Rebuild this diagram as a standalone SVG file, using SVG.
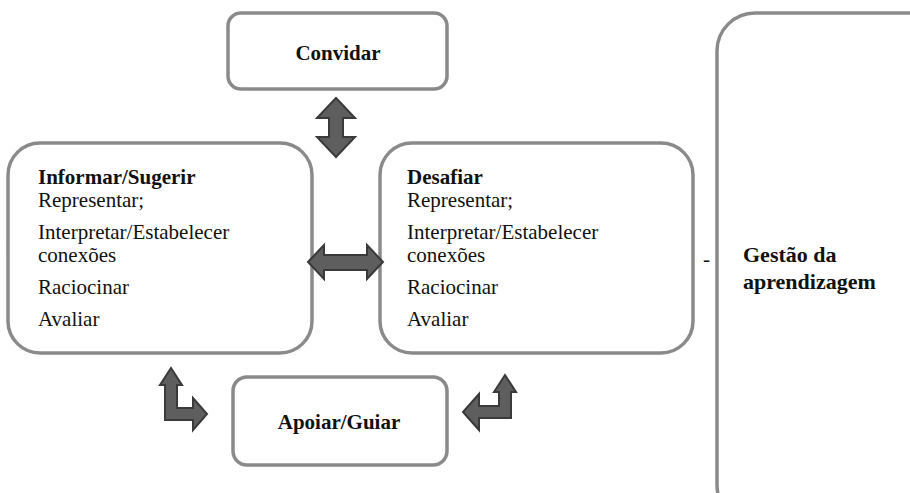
<svg xmlns="http://www.w3.org/2000/svg" width="910" height="493" viewBox="0 0 910 493">
<style>
.box{fill:#fff;stroke:#8a8a8a;stroke-width:3.5}
.t{font-family:"Liberation Serif","Times New Roman",serif;font-size:21px;fill:#111}
.b{font-weight:bold}
.arr{fill:#5e5e5e;stroke:#3a3a3a;stroke-width:2;stroke-linejoin:miter}
</style>
<rect width="910" height="493" fill="#fff"/>
<g id="convidar">
<rect class="box" x="228" y="13" width="219" height="76" rx="13"/>
<text class="t b" x="338" y="60" text-anchor="middle">Convidar</text>
</g>
<g id="informar">
<rect class="box" x="8" y="143" width="304" height="210" rx="32"/>
<text class="t b" x="38" y="184">Informar/Sugerir</text>
<text class="t" x="38" y="207">Representar;</text>
<text class="t" x="38" y="239">Interpretar/Estabelecer</text>
<text class="t" x="38" y="262">conexões</text>
<text class="t" x="38" y="294">Raciocinar</text>
<text class="t" x="38" y="326">Avaliar</text>
</g>
<g id="desafiar">
<rect class="box" x="380" y="143" width="313" height="210" rx="32"/>
<text class="t b" x="407" y="184">Desafiar</text>
<text class="t" x="407" y="207">Representar;</text>
<text class="t" x="407" y="239">Interpretar/Estabelecer</text>
<text class="t" x="407" y="262">conexões</text>
<text class="t" x="407" y="294">Raciocinar</text>
<text class="t" x="407" y="326">Avaliar</text>
</g>
<g id="apoiar">
<rect class="box" x="233" y="377" width="214" height="88" rx="14"/>
<text class="t b" x="339" y="429" text-anchor="middle">Apoiar/Guiar</text>
</g>
<g id="gestao">
<rect class="box" x="717" y="13" width="240" height="510" rx="38"/>
<text class="t b" x="743" y="262" style="font-size:22px">Gestão da</text>
<text class="t b" x="743" y="289" style="font-size:22px">aprendizagem</text>
</g>
<text class="t" x="703" y="266">-</text>
<g id="connectors">
<polygon class="arr" points="336,98 355,118 343,118 343,137 355,137 336,157 317,137 329,137 329,118 317,118"/>
<polygon class="arr" points="308,262 324,245 324,255 367,255 367,245 383,262 367,279 367,270 324,270 324,279"/>
<polygon class="arr" points="171,368 182,385 177,385 177,408 193,408 193,398 207,414 193,430 193,420 165,420 165,385 160,385"/>
<polygon class="arr" points="505,375 516,392 511,392 511,418 479,418 479,430 463,412 479,394 479,406 499,406 499,392 494,392"/>
</g>
</svg>
